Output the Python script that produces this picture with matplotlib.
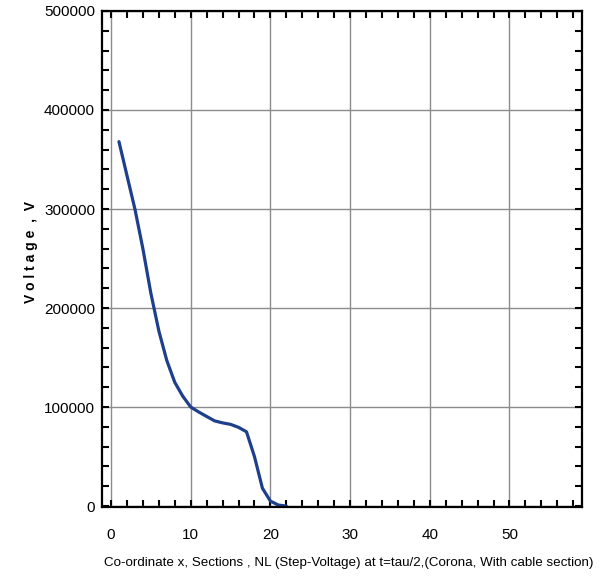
import matplotlib
matplotlib.use("Agg")
import matplotlib.pyplot as plt
from matplotlib.ticker import MultipleLocator, FuncFormatter

plt.rcParams["font.family"] = ["Liberation Sans", "DejaVu Sans"]

# step-voltage profile along the line sections
sections = [1, 2, 3, 4, 5, 6, 7, 8, 9, 10, 11, 12, 13, 14, 15, 16, 17, 18, 19, 20, 21, 22]
voltage = [368000, 334000, 300000, 260000, 215000, 177000, 147000, 125000, 111000,
           100000, 95000, 90500, 86000, 84000, 82500, 79500, 75000, 50000, 18000,
           5000, 1000, 0]

x_ticks = [0, 10, 20, 30, 40, 50]
y_ticks = [0, 100000, 200000, 300000, 400000, 500000]

fig = plt.figure(figsize=(6.06, 5.84), dpi=100)
ax = fig.add_axes([0.1683, 0.1318, 0.7921, 0.8494])

ax.plot(sections, voltage, color="#1d3f8c", linewidth=2.3, solid_capstyle="round",
        solid_joinstyle="round")

ax.set_xlim(-1.13, 59.1)
ax.set_ylim(-1000, 500000)
ax.set_xticks(x_ticks)
ax.set_yticks(y_ticks)
ax.xaxis.set_minor_locator(MultipleLocator(2))
ax.yaxis.set_minor_locator(MultipleLocator(20000))
ax.yaxis.set_major_formatter(FuncFormatter(lambda v, p: f"{int(v)}"))

ax.grid(True, which="major", color="#8c8c8c", linewidth=1.0)
ax.set_axisbelow(True)

for s in ax.spines.values():
    s.set_linewidth(1.6)
ax.tick_params(which="both", direction="in", top=True, right=True, width=1.5)
ax.tick_params(which="major", length=5)
ax.tick_params(which="minor", length=5)
ax.tick_params(axis="x", which="major", pad=15, labelsize=11)
ax.tick_params(axis="y", which="major", pad=5, labelsize=11)

fig.text(30.5 / 606, 1 - 252 / 584, "V o l t a g e  ,  V", rotation=90,
         ha="center", va="center", fontsize=10, fontweight="bold")
fig.text(349 / 606, 1 - 563 / 584,
         "Co-ordinate x, Sections , NL (Step-Voltage) at t=tau/2,(Corona, With cable section)",
         ha="center", va="center", fontsize=9.6)

fig.savefig("out.png", dpi=100)
